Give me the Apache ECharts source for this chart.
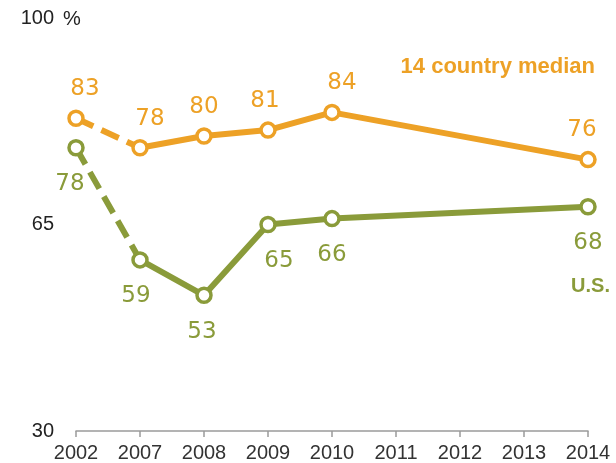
<!DOCTYPE html>
<html>
<head>
<meta charset="utf-8">
<script src="https://cdn.jsdelivr.net/npm/echarts@6/dist/echarts.min.js"></script>
<style>
  html, body { margin: 0; padding: 0; background: #fff; }
  #chart { width: 616px; height: 463px; }
</style>
</head>
<body>
<div id="chart"></div>
<script>
// Survey years and percentages
const years = ['2002', '2007', '2008', '2009', '2010', '2011', '2012', '2013', '2014'];
const medianValues = [83, 78, 80, 81, 84, null, null, null, 76];
const usValues = [78, 59, 53, 65, 66, null, null, null, 68];
const yTicks = [30, 65, 100];

// Small horizontal nudges for the value labels (px)
const medianLabelNudge = [9, 10, 0, -3, 10, 0, 0, 0, -6];
const usLabelNudge = [-6, -4, -2, 11, 0, 0, 0, 0, 0];

const ORANGE = '#EDA126';
const GREEN = '#8A9B3A';
const LABEL_FONT = 'DejaVu Sans';

// The 2002 -> 2007 step is drawn dashed, everything after it solid
function dashedPart(values) {
  return values.map((v, i) => (i <= 1 ? v : null));
}
function solidPart(values, nudge) {
  return values.map((v, i) => {
    if (i < 1 || v == null) return null;
    return { value: v, label: { offset: [nudge[i], 0] } };
  });
}
function firstPoint(values, nudge) {
  return values.map((v, i) =>
    i === 0 ? { value: v, label: { offset: [nudge[i], 0] } } : null
  );
}

function lineSeries(name, values, nudge, color, position, distance) {
  const labelBase = {
    show: true,
    position: position,
    distance: distance,
    color: color,
    fontFamily: LABEL_FONT,
    fontSize: 23,
    fontWeight: 'normal'
  };
  const marker = {
    symbol: 'circle',
    symbolSize: 14,
    itemStyle: { color: '#fff', borderColor: color, borderWidth: 3.5 }
  };
  return [
    {
      name: name + '-dashed',
      type: 'line',
      data: dashedPart(values),
      showSymbol: false,
      lineStyle: { color: color, width: 6, type: [19, 9] },
      z: 2,
      silent: true
    },
    Object.assign({
      name: name + '-start',
      type: 'line',
      data: firstPoint(values, nudge),
      lineStyle: { width: 0 },
      label: labelBase,
      z: 4
    }, marker),
    Object.assign({
      name: name,
      type: 'line',
      data: solidPart(values, nudge),
      connectNulls: true,
      showAllSymbol: true,
      lineStyle: { color: color, width: 6 },
      label: labelBase,
      z: 3
    }, marker)
  ];
}

const chart = echarts.init(document.getElementById('chart'), null, { renderer: 'canvas' });

chart.setOption({
  animation: false,
  backgroundColor: '#fff',
  grid: { left: 76, right: 28, top: 18, bottom: 31, containLabel: false },
  xAxis: {
    type: 'category',
    data: years,
    boundaryGap: false,
    axisLine: { show: true, lineStyle: { color: '#9a9a9a', width: 1.5 } },
    axisTick: { show: true, length: 6, lineStyle: { color: '#9a9a9a', width: 1.5 } },
    axisLabel: {
      margin: 12,
      color: '#333',
      fontFamily: 'Liberation Sans',
      fontSize: 20
    },
    splitLine: { show: false }
  },
  yAxis: {
    type: 'value',
    min: yTicks[0],
    max: yTicks[yTicks.length - 1],
    interval: yTicks[1] - yTicks[0],
    axisLine: { show: false },
    axisTick: { show: false },
    splitLine: { show: false },
    axisLabel: {
      margin: 22,
      color: '#222',
      fontFamily: 'Liberation Sans',
      fontSize: 20
    }
  },
  series: [
    ...lineSeries('14 country median', medianValues, medianLabelNudge, ORANGE, 'top', 9),
    ...lineSeries('U.S.', usValues, usLabelNudge, GREEN, 'bottom', 16)
  ],
  graphic: [
    {
      type: 'text',
      left: 63, top: 9,
      style: { text: '%', fill: '#222', font: '20px "Liberation Sans"' }
    },
    {
      type: 'text',
      right: 21, top: 56,
      style: { text: '14 country median', fill: ORANGE, font: 'bold 22px "Liberation Sans"' }
    },
    {
      type: 'text',
      right: 6, top: 276,
      style: { text: 'U.S.', fill: GREEN, font: 'bold 20px "Liberation Sans"' }
    }
  ]
});
</script>
</body>
</html>
